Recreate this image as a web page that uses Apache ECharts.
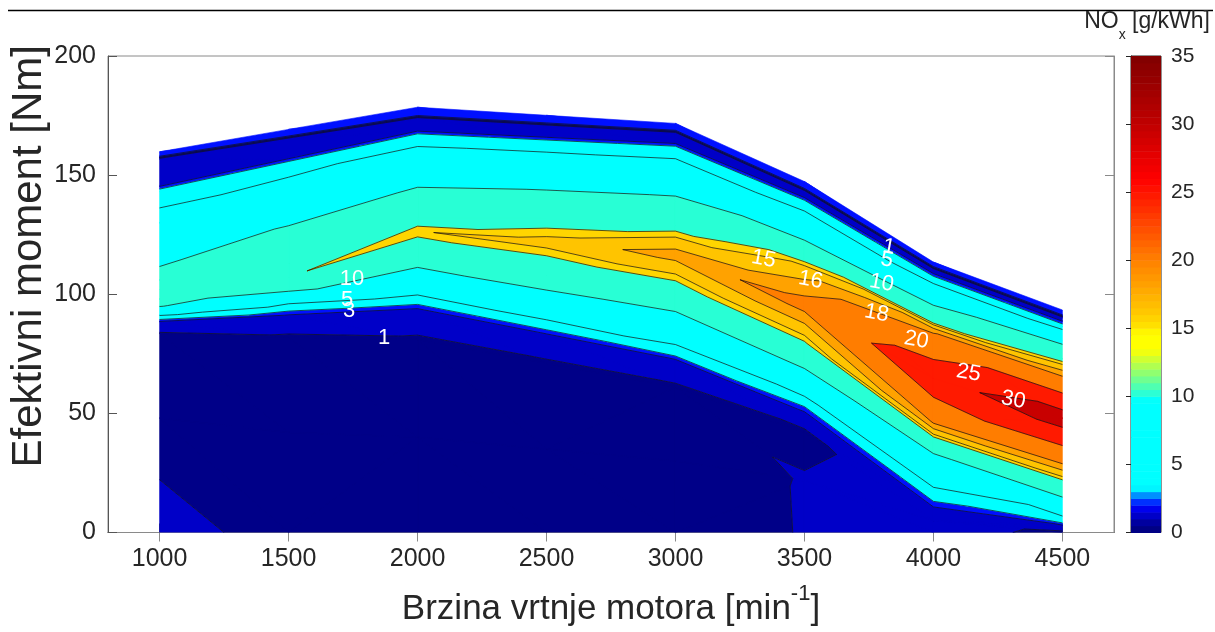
<!DOCTYPE html>
<html>
<head>
<meta charset="utf-8">
<script src="https://cdn.jsdelivr.net/npm/echarts@6/dist/echarts.min.js"></script>
<style>
html, body { margin: 0; padding: 0; background: #fff; }
#chart { width: 1215px; height: 632px; }
</style>
</head>
<body>
<div id="chart"></div>
<script>
// engine speed columns [min^-1]
var speeds = [1000, 1500, 2000, 2500, 3000, 3500, 4000, 4500];

// torque of each grid row at every speed column [Nm], bottom row first
var torqueGrid = [
  [0, 0, 0, 0, 0, 0, 0, 0],
  [48, 42, 40, 35, 30, 22, 5, 1.5],
  [83.5, 82, 81, 71, 61, 42, 10.5, 3],
  [88.5, 91.2, 93.8, 83.2, 72.5, 50.5, 14, 4.5],
  [91.5, 94.5, 97.5, 86.8, 75.5, 56, 32, 14],
  [95, 99, 103, 93, 85, 70, 40, 22],
  [98, 102, 116, 108, 100, 80, 46, 29],
  [102, 107, 126.5, 121.7, 116.7, 95.5, 64.7, 48],
  [106, 113, 132, 132, 129, 111, 84.5, 66],
  [112, 127, 143, 142, 139, 117, 89, 73],
  [130, 140, 155, 153, 150, 128, 99, 80.5],
  [143.1, 154.7, 166.3, 163.7, 161.1, 138.4, 106.5, 86.5],
  [145.4, 157, 168.6, 166, 163.4, 140.7, 108.8, 88.8],
  [156.7, 165.2, 173.8, 170.7, 167.6, 143.2, 110.4, 90.1],
  [157.4, 165.9, 174.5, 171.4, 168.3, 143.9, 111.1, 90.8],
  [158, 166.5, 175.1, 172, 168.9, 144.5, 111.7, 91.4],
  [159.8, 169.2, 178.5, 175.1, 171.7, 147.3, 113.5, 93.4]
];

// NOx [g/kWh] at the same grid nodes
var noxGrid = [
  [1.3, 0.7, 0.62, 0.55, 0.6, 1.04, 1.4, 0.75],
  [0.65, 0.55, 0.5, 0.45, 0.5, 1.05, 1.6, 1.3],
  [0.9, 0.85, 0.85, 0.85, 0.85, 0.8, 1.9, 1.9],
  [1.9, 1.9, 1.9, 1.9, 1.9, 1.9, 3.4, 3.5],
  [5.5, 4.0, 4.0, 4.0, 4.0, 4.5, 9.2, 9.4],
  [10.2, 7.0, 6.5, 6.5, 6.8, 10.5, 14.9, 14.9],
  [11.8, 11.0, 12.0, 12.5, 13.0, 14.9, 20.1, 20.1],
  [12.4, 14.85, 15.9, 16.7, 18.9, 21.1, 28.6, 32.5],
  [11.6, 13.4, 13.5, 13.8, 14.0, 16.6, 19.6, 19.7],
  [9.9, 10.5, 10.6, 10.6, 10.8, 13.0, 13.5, 14.0],
  [6.0, 6.8, 6.8, 6.8, 6.8, 7.2, 8.0, 9.0],
  [3.9, 3.9, 3.9, 3.9, 3.9, 3.9, 3.9, 3.9],
  [1.9, 1.9, 1.9, 1.9, 1.9, 1.9, 1.9, 1.9],
  [1.2, 1.2, 1.2, 1.2, 1.2, 1.2, 1.2, 1.2],
  [0.8, 0.8, 0.8, 0.8, 0.8, 0.8, 0.8, 0.8],
  [2.2, 2.2, 2.2, 2.2, 2.2, 2.2, 2.2, 2.2],
  [2.98, 2.98, 2.98, 2.98, 2.98, 2.98, 2.98, 2.98]
];

// contour levels (band edges) and the levels that get a line
var levels = [0, 1, 2, 3, 5, 10, 15, 16, 18, 20, 25, 30, 35];
var lineLevels = [1, 2, 3, 5, 10, 15, 16, 18, 20, 25, 30];

// contour labels: speed, torque, level
var contourLabels = [
  [1870, 81.6, 1], [1735, 93, 3], [1727, 97.8, 5], [1746, 106.4, 10],
  [3342, 114.8, 15], [3524, 106, 16], [3780, 92, 18], [3934, 80.8, 20],
  [4136, 67, 25], [4310, 55.6, 30], [3799, 104.7, 10], [3819, 114.4, 5],
  [3827, 119.8, 1]
];

var xTicks = [1000, 1500, 2000, 2500, 3000, 3500, 4000, 4500];

// colour scale of the colorbar
var cbStops = [
  [0, '#00007a'], [0.6, '#000092'], [1, '#0000b4'], [1.5, '#0000dc'], [2, '#0000ff'],
  [2.5, '#0060ff'], [3, '#00c0ff'], [3.3, '#00ffff'], [9.7, '#00ffff'], [10.3, '#30ffd0'],
  [11, '#60ffa0'], [12, '#a0ff60'], [13, '#e0ff20'], [13.5, '#ffff00'], [14.6, '#ffff00'],
  [15, '#ffe600'], [16, '#ffcc00'], [18, '#ffa500'], [20, '#ff8000'], [22, '#ff5500'],
  [24, '#ff2a00'], [26, '#ff0000'], [28, '#e00000'], [30, '#c00000'], [32.5, '#a00000'],
  [35, '#800000']
];

var bandColors = ['#000088', '#0000c8', '#0010ff', '#00ffff', '#00ffff', '#28ffd5',
  '#ffd500', '#ffc400', '#ffa200', '#ff7d00', '#ff1a00', '#c80000'];

var FONT = '"Liberation Sans", Arial, Helvetica, sans-serif';
var TXT = '#262626';

function hexRgb(h) {
  return [parseInt(h.substr(1, 2), 16), parseInt(h.substr(3, 2), 16), parseInt(h.substr(5, 2), 16)];
}
function colorAt(v) {
  for (var i = 0; i < cbStops.length - 1; i++) {
    var a = cbStops[i], b = cbStops[i + 1];
    if (v >= a[0] && v <= b[0]) {
      var t = (v - a[0]) / (b[0] - a[0]);
      var ca = hexRgb(a[1]), cb = hexRgb(b[1]);
      return 'rgb(' + Math.round(ca[0] + t * (cb[0] - ca[0])) + ',' +
        Math.round(ca[1] + t * (cb[1] - ca[1])) + ',' +
        Math.round(ca[2] + t * (cb[2] - ca[2])) + ')';
    }
  }
  return cbStops[cbStops.length - 1][1];
}

// clip a polygon [x, y, v] to v >= lv (above) or v <= lv
function clip(pts, lv, above) {
  var out = [];
  for (var i = 0; i < pts.length; i++) {
    var a = pts[i], b = pts[(i + 1) % pts.length];
    var ina = above ? a[2] >= lv : a[2] <= lv;
    var inb = above ? b[2] >= lv : b[2] <= lv;
    if (ina) out.push(a);
    if (ina !== inb) {
      var t = (lv - a[2]) / (b[2] - a[2]);
      out.push([a[0] + t * (b[0] - a[0]), a[1] + t * (b[1] - a[1]), lv]);
    }
  }
  return out;
}

// filled bands (one list of polygons per band) and contour segments
var bandPolys = levels.slice(1).map(function () { return []; });
var segs = [];
for (var r = 0; r < torqueGrid.length - 1; r++) {
  for (var c = 0; c < speeds.length - 1; c++) {
    var p00 = [speeds[c], torqueGrid[r][c], noxGrid[r][c]];
    var p10 = [speeds[c + 1], torqueGrid[r][c + 1], noxGrid[r][c + 1]];
    var p01 = [speeds[c], torqueGrid[r + 1][c], noxGrid[r + 1][c]];
    var p11 = [speeds[c + 1], torqueGrid[r + 1][c + 1], noxGrid[r + 1][c + 1]];
    var m = (p00[2] + p10[2] + p01[2] + p11[2]) / 4;
    var tris;
    if (Math.abs((p00[2] + p11[2]) / 2 - m) < Math.abs((p10[2] + p01[2]) / 2 - m)) {
      tris = [[p00, p10, p11], [p00, p11, p01]];
    } else {
      tris = [[p00, p10, p01], [p10, p11, p01]];
    }
    tris.forEach(function (tri) {
      for (var b = 0; b < levels.length - 1; b++) {
        var poly = clip(clip(tri, levels[b], true), levels[b + 1], false);
        if (poly.length >= 3) bandPolys[b].push(poly);
      }
      lineLevels.forEach(function (L) {
        var cross = [];
        for (var k = 0; k < 3; k++) {
          var a = tri[k], e = tri[(k + 1) % 3];
          if ((a[2] > L) !== (e[2] > L)) {
            var t = (L - a[2]) / (e[2] - a[2]);
            cross.push([a[0] + t * (e[0] - a[0]), a[1] + t * (e[1] - a[1])]);
          }
        }
        if (cross.length === 2) segs.push([cross[0][0], cross[0][1], cross[1][0], cross[1][1]]);
      });
    });
  }
}
var bandItems = [];
bandPolys.forEach(function (list, b) {
  if (list.length) bandItems.push([list[0][0][0], list[0][0][1], b]);
});

var cbCells = [];
for (var v = 0; v < 35; v += 0.5) cbCells.push([v, v + 0.5]);

var chart = echarts.init(document.getElementById('chart'));

var option = {
  animation: false,
  backgroundColor: '#fff',
  grid: [
    { left: 108, top: 56, width: 1006, height: 476.5, show: true, borderColor: '#8a8a8a', borderWidth: 1, outerBoundsMode: 'none', containLabel: false },
    { left: 1131, top: 56, width: 30, height: 476.5, show: true, borderColor: '#262626', borderWidth: 1, outerBoundsMode: 'none', containLabel: false }
  ],
  xAxis: [
    {
      type: 'value', gridIndex: 0, min: 800, max: 4700,
      name: '{a|Brzina vrtnje motora [min}{sup|-1}{a|]}',
      nameLocation: 'middle', nameGap: 50, nameMoveOverlap: false,
      nameTextStyle: {
        color: TXT, fontFamily: FONT,
        rich: {
          a: { fontSize: 35, lineHeight: 44, verticalAlign: 'bottom', color: TXT, fontFamily: FONT },
          sup: { fontSize: 22, lineHeight: 26, verticalAlign: 'top', color: TXT, fontFamily: FONT }
        }
      },
      axisLine: { lineStyle: { color: '#555', width: 1 } },
      axisTick: { inside: true, length: 9, customValues: xTicks, lineStyle: { color: '#555' } },
      axisLabel: {
        customValues: xTicks, fontSize: 25, color: TXT, fontFamily: FONT, margin: 14,
        formatter: function (val) { return String(val); }
      },
      splitLine: { show: false }
    },
    {
      type: 'value', gridIndex: 0, min: 800, max: 4700, position: 'top',
      axisLine: { lineStyle: { color: '#8a8a8a' } },
      axisTick: { inside: true, length: 9, customValues: xTicks, lineStyle: { color: '#8a8a8a' } },
      axisLabel: { show: false },
      splitLine: { show: false }
    },
    { type: 'value', gridIndex: 1, min: 0, max: 1, show: false }
  ],
  yAxis: [
    {
      type: 'value', gridIndex: 0, min: 0, max: 200, interval: 50,
      name: 'Efektivni moment [Nm]', nameLocation: 'middle', nameGap: 58, nameMoveOverlap: false,
      nameTextStyle: { fontSize: 42, color: TXT, fontFamily: FONT, padding: [0, 0, 0, 76] },
      axisLine: { show: true, lineStyle: { color: '#555' } },
      axisTick: { show: true, inside: true, length: 9, lineStyle: { color: '#555' } },
      axisLabel: { fontSize: 25, color: TXT, fontFamily: FONT, margin: 12 },
      splitLine: { show: false }
    },
    {
      type: 'value', gridIndex: 0, min: 0, max: 200, interval: 50, position: 'right',
      axisLine: { show: true, lineStyle: { color: '#8a8a8a' } },
      axisTick: { show: true, inside: true, length: 9, lineStyle: { color: '#8a8a8a' } },
      axisLabel: { show: false },
      splitLine: { show: false }
    },
    {
      type: 'value', gridIndex: 1, min: 0, max: 35, interval: 5, position: 'right',
      axisLine: { show: true, lineStyle: { color: '#262626' } },
      axisTick: { show: true, inside: true, length: 5, lineStyle: { color: '#262626' } },
      axisLabel: { fontSize: 21, color: TXT, fontFamily: FONT, margin: 10 },
      splitLine: { show: false }
    }
  ],
  graphic: [
    { type: 'line', shape: { x1: 8, y1: 10.5, x2: 1213, y2: 10.5 }, style: { stroke: '#000', lineWidth: 1.5 } },
    {
      type: 'text', right: 5, top: 10,
      style: {
        text: '{a|NO}{s|x}{sp| }{a|[g/kWh]}',
        fill: TXT, fontFamily: FONT,
        rich: {
          a: { fontSize: 23, lineHeight: 26, verticalAlign: 'top', fill: TXT, fontFamily: FONT },
          s: { fontSize: 14, lineHeight: 14, verticalAlign: 'bottom', fill: TXT, fontFamily: FONT },
          sp: { fontSize: 23, lineHeight: 32, verticalAlign: 'top', fill: TXT, fontFamily: FONT }
        }
      }
    }
  ],
  series: [
    {
      type: 'custom', xAxisIndex: 0, yAxisIndex: 0, silent: true, clip: true, z: 1,
      data: bandItems,
      encode: { x: 0, y: 1 },
      renderItem: function (params, api) {
        var b = api.value(2);
        var d = '';
        bandPolys[b].forEach(function (poly) {
          poly.forEach(function (p, i) {
            var q = api.coord([p[0], p[1]]);
            d += (i ? 'L' : 'M') + q[0].toFixed(2) + ' ' + q[1].toFixed(2);
          });
          d += 'Z';
        });
        var col = bandColors[b];
        return { type: 'path', shape: { pathData: d }, style: { fill: col, stroke: col, lineWidth: 0.6 } };
      }
    },
    {
      type: 'custom', xAxisIndex: 0, yAxisIndex: 0, silent: true, clip: true, z: 2,
      data: segs.map(function (s) { return [s[0], s[1]]; }),
      encode: { x: 0, y: 1 },
      renderItem: function (params, api) {
        var s = segs[params.dataIndex];
        var a = api.coord([s[0], s[1]]), b = api.coord([s[2], s[3]]);
        return { type: 'line', shape: { x1: a[0], y1: a[1], x2: b[0], y2: b[1] }, style: { stroke: '#111', lineWidth: 0.7 } };
      }
    },
    {
      type: 'custom', xAxisIndex: 0, yAxisIndex: 0, silent: true, z: 3,
      data: contourLabels,
      encode: { x: 0, y: 1 },
      renderItem: function (params, api) {
        var p = api.coord([api.value(0), api.value(1)]);
        var lv = api.value(2);
        return {
          type: 'text', x: p[0], y: p[1],
          rotation: api.value(0) > 3000 ? -0.18 : 0,
          style: { text: String(lv), fill: '#fff', fontSize: 22, fontFamily: FONT, align: 'center', verticalAlign: 'middle' }
        };
      }
    },
    {
      type: 'custom', xAxisIndex: 2, yAxisIndex: 2, silent: true, z: 1,
      data: cbCells,
      encode: { y: [0, 1] },
      renderItem: function (params, api) {
        var lo = api.value(0), hi = api.value(1);
        var p1 = api.coord([0, hi]), p2 = api.coord([1, lo]);
        var col = colorAt((lo + hi) / 2);
        return { type: 'rect', shape: { x: p1[0], y: p1[1], width: p2[0] - p1[0], height: p2[1] - p1[1] + 0.5 }, style: { fill: col } };
      }
    }
  ]
};

chart.setOption(option);
</script>
</body>
</html>
